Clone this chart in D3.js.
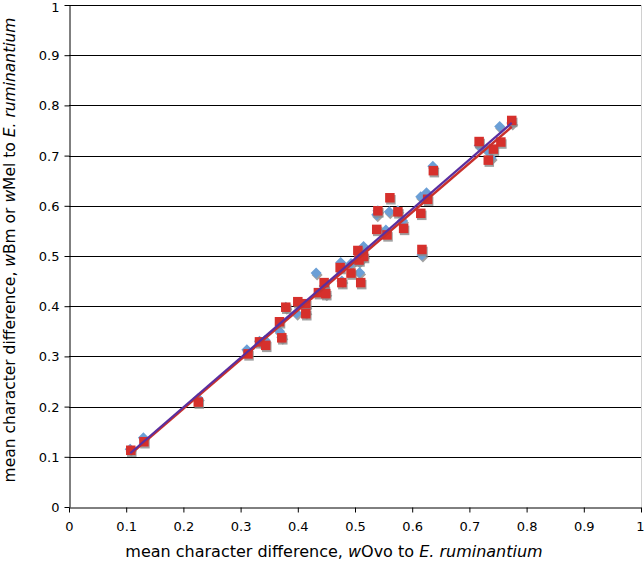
<!DOCTYPE html>
<html><head><meta charset="utf-8">
<script src="https://cdn.jsdelivr.net/npm/d3@7"></script>
<style>body{margin:0;background:#fff}svg{display:block}text{font-family:"DejaVu Sans",Verdana,sans-serif}</style>
</head><body><svg id="c" width="644" height="565"></svg>
<script>
// wOvo (x) vs wMel (y) -- red squares
const melX = [0.108,0.131,0.226,0.313,0.333,0.344,0.368,0.372,0.379,0.400,0.414,0.414,0.436,0.446,0.449,0.474,0.477,0.493,0.505,0.515,0.507,0.510,0.538,0.540,0.556,0.561,0.575,0.585,0.615,0.617,0.627,0.637,0.717,0.733,0.742,0.755,0.774];
const melY = [0.113,0.130,0.209,0.305,0.329,0.322,0.369,0.337,0.398,0.409,0.405,0.385,0.427,0.447,0.425,0.477,0.447,0.466,0.511,0.499,0.492,0.447,0.553,0.590,0.542,0.616,0.588,0.555,0.585,0.513,0.613,0.670,0.728,0.691,0.713,0.727,0.770];
// wOvo (x) vs wBm (y) -- blue diamonds
const bmX = [0.107,0.130,0.226,0.311,0.333,0.343,0.368,0.372,0.379,0.398,0.414,0.414,0.432,0.446,0.449,0.475,0.477,0.493,0.515,0.515,0.508,0.507,0.538,0.540,0.554,0.560,0.575,0.583,0.615,0.617,0.625,0.636,0.717,0.731,0.738,0.753,0.774];
const bmY = [0.115,0.138,0.216,0.313,0.330,0.332,0.350,0.338,0.398,0.386,0.400,0.388,0.466,0.440,0.425,0.487,0.450,0.485,0.519,0.500,0.467,0.490,0.582,0.590,0.552,0.588,0.590,0.570,0.618,0.502,0.626,0.679,0.720,0.711,0.695,0.758,0.765];
const xTicks = [0,0.1,0.2,0.3,0.4,0.5,0.6,0.7,0.8,0.9,1];
const yTicks = [0,0.1,0.2,0.3,0.4,0.5,0.6,0.7,0.8,0.9,1];

const svg = d3.select("#c");
const x = d3.scaleLinear().domain([0,1]).range([69,641]);
const y = d3.scaleLinear().domain([0,1]).range([507,5]);

svg.append("line").attr("x1",641.5).attr("x2",641.5).attr("y1",5).attr("y2",507).attr("stroke","#d0d0d0");
svg.append("g").selectAll("line").data(yTicks.slice(1)).join("line")
  .attr("x1",69).attr("x2",641).attr("y1",d=>Math.round(y(d))+0.5).attr("y2",d=>Math.round(y(d))+0.5)
  .attr("stroke","#000").attr("stroke-width",1);

const fmt = d=> d===0?"0":d===1?"1":d3.format(".1f")(d);
const gx = svg.append("g").attr("transform",`translate(0,${Math.round(y(0))+0.5})`)
  .call(d3.axisBottom(x).tickValues(xTicks).tickFormat(fmt).tickSize(5).tickSizeOuter(0));
const gy = svg.append("g").attr("transform",`translate(${69.5},0)`)
  .call(d3.axisLeft(y).tickValues(yTicks).tickFormat(fmt).tickSize(5).tickSizeOuter(0));
[gx,gy].forEach(g=>{g.select(".domain").attr("stroke","#000");g.selectAll(".tick line").attr("stroke","#000");
  g.selectAll("text").attr("font-size",13).attr("fill","#000").style("font-family",'"DejaVu Sans",Verdana,sans-serif');});
gx.selectAll("text").attr("dy","0").attr("y",23);
gy.selectAll("text").attr("x",-10).attr("dy","0.35em");
// keep edge labels fully visible
gx.selectAll(".tick text").filter(d=>d===1).attr("text-anchor","end").attr("dx","3");
gy.selectAll(".tick text").filter(d=>d===1).attr("dy","0.5em");

const bm = bmX.map((v,i)=>[v,bmY[i]]);
const mel = melX.map((v,i)=>[v,melY[i]]);
const r = 5.5;
const dia = `M0,${-r}L${r},0L0,${r}L${-r},0Z`;
const g = svg.append("g");
g.selectAll(".bs").data(bm).join("path").attr("d",dia)
  .attr("transform",d=>`translate(${x(d[0])+1},${y(d[1])+2})`).attr("fill","#8a8a8a").attr("opacity",0.8);
g.selectAll(".b").data(bm).join("path").attr("d",dia)
  .attr("transform",d=>`translate(${x(d[0])},${y(d[1])})`).attr("fill","#6b9fd6");
const s = 9.5;
g.selectAll(".ms").data(mel).join("rect").attr("width",s).attr("height",s)
  .attr("x",d=>x(d[0])-s/2+1).attr("y",d=>y(d[1])-s/2+2).attr("fill","#8a8a8a").attr("opacity",0.8);
g.selectAll(".m").data(mel).join("rect").attr("width",s).attr("height",s)
  .attr("x",d=>x(d[0])-s/2).attr("y",d=>y(d[1])-s/2).attr("fill","#d6302c");

function reg(xs,ys){const n=xs.length,mx=d3.mean(xs),my=d3.mean(ys);
  let sxy=0,sxx=0;for(let i=0;i<n;i++){sxy+=(xs[i]-mx)*(ys[i]-my);sxx+=(xs[i]-mx)**2;}
  const b=sxy/sxx,a=my-b*mx;const x0=d3.min(xs),x1=d3.max(xs);return [[x0,a+b*x0],[x1,a+b*x1]];}
const line = d3.line().x(d=>x(d[0])).y(d=>y(d[1]));
svg.append("path").attr("d",line(reg(melX,melY))).attr("stroke","#c8302c").attr("stroke-width",2.5).attr("fill","none");
svg.append("path").attr("d",line(reg(bmX,bmY))).attr("stroke","#5a2fa0").attr("stroke-width",2.2).attr("fill","none");

const xt = svg.append("text").attr("x",334).attr("y",557).attr("text-anchor","middle").attr("font-size",16);
xt.append("tspan").text("mean character difference, ");
xt.append("tspan").attr("font-style","italic").text("w");
xt.append("tspan").text("Ovo to ");
xt.append("tspan").attr("font-style","italic").text("E. ruminantium");
const yt = svg.append("text").attr("transform","translate(15,250) rotate(-90)").attr("text-anchor","middle").attr("font-size",15.5);
yt.append("tspan").text("mean character difference, ");
yt.append("tspan").attr("font-style","italic").text("w");
yt.append("tspan").text("Bm or ");
yt.append("tspan").attr("font-style","italic").text("w");
yt.append("tspan").text("Mel to ");
yt.append("tspan").attr("font-style","italic").text("E. ruminantium");
</script></body></html>
